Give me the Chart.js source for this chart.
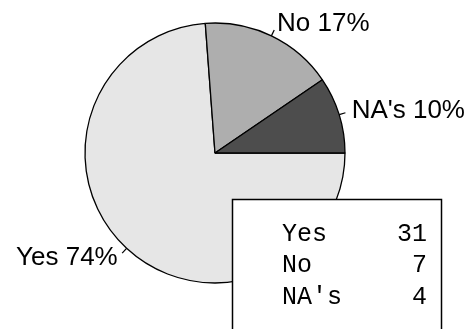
<!DOCTYPE html>
<html>
<head>
<meta charset="utf-8">
<script src="https://cdn.jsdelivr.net/npm/chart.js@4"></script>
<style>
  html, body { margin: 0; padding: 0; background: #fff; }
  #wrap { width: 475px; height: 329px; }
</style>
</head>
<body>
<div id="wrap"><canvas id="pie" width="475" height="329"></canvas></div>
<script>
// data
const categories = ['Yes', 'No', "NA's"];
const counts = [31, 7, 4];
const sliceColors = ['#E6E6E6', '#AEAEAE', '#4D4D4D'];

const total = counts.reduce((a, b) => a + b, 0);
const percents = counts.map(c => Math.round(c / total * 100));

// labels with leader lines (like R's pie) + the count table
const pieLabels = {
    id: 'pieLabels',
    afterDraw(chart) {
        const ctx = chart.ctx;
        const meta = chart.getDatasetMeta(0);
        ctx.save();
        ctx.strokeStyle = '#000';
        ctx.fillStyle = '#000';
        ctx.lineWidth = 1.2;
        ctx.font = '26px "Liberation Sans", Arial, sans-serif';
        ctx.textBaseline = 'middle';
        meta.data.forEach((arc, i) => {
            const p = arc.getProps(['x', 'y', 'startAngle', 'endAngle', 'outerRadius'], true);
            const mid = (p.startAngle + p.endAngle) / 2;
            const cs = Math.cos(mid), sn = Math.sin(mid);
            const r = p.outerRadius;
            ctx.beginPath();
            ctx.moveTo(p.x + r * cs, p.y + r * sn);
            ctx.lineTo(p.x + 1.05 * r * cs, p.y + 1.05 * r * sn);
            ctx.stroke();
            ctx.textAlign = cs >= 0 ? 'left' : 'right';
            ctx.fillText(categories[i] + ' ' + percents[i] + '%', p.x + 1.1 * r * cs, p.y + 1.1 * r * sn);
        });

        // count table box
        ctx.fillStyle = '#fff';
        ctx.fillRect(232.5, 199.5, 209, 140);
        ctx.lineWidth = 1.5;
        ctx.strokeRect(232.5, 199.5, 209, 140);
        ctx.fillStyle = '#000';
        ctx.font = '25px "Liberation Mono", "Courier New", monospace';
        ctx.textBaseline = 'alphabetic';
        categories.forEach((c, i) => {
            const yy = 240.5 + i * 31.8;
            ctx.textAlign = 'left';
            ctx.fillText(c, 282, yy);
            ctx.textAlign = 'right';
            ctx.fillText(String(counts[i]), 427, yy);
        });
        ctx.restore();
    }
};

new Chart(document.getElementById('pie'), {
    type: 'pie',
    data: {
        labels: categories,
        datasets: [{
            data: counts,
            backgroundColor: sliceColors,
            borderColor: '#000',
            borderWidth: 1.3,
            borderAlign: 'center'
        }]
    },
    options: {
        responsive: false,
        animation: false,
        devicePixelRatio: 1,
        rotation: 90,
        radius: 130,
        layout: { padding: { left: 80, right: 125, top: 20, bottom: 43 } },
        plugins: {
            legend: { display: false },
            tooltip: { enabled: false }
        }
    },
    plugins: [pieLabels]
});
</script>
</body>
</html>
